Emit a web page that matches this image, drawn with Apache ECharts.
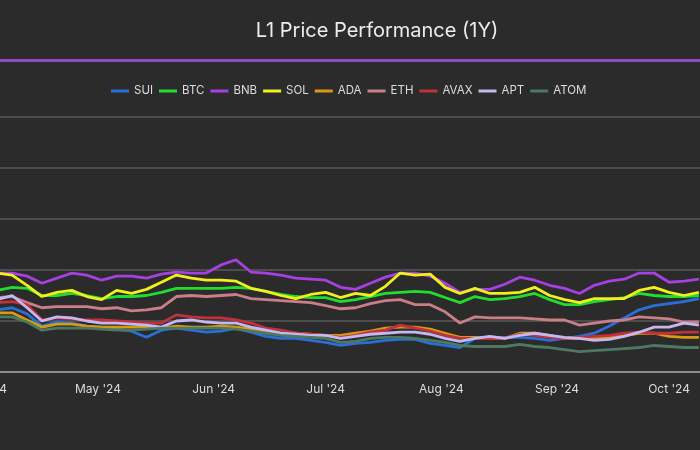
<!DOCTYPE html>
<html>
<head>
<meta charset="utf-8">
<script src="https://cdn.jsdelivr.net/npm/echarts@6/dist/echarts.min.js"></script>
<style>
html,body{margin:0;padding:0;background:#2b2b2b;overflow:hidden;width:700px;height:450px;}
#chart{width:740px;height:450px;position:absolute;left:-40px;top:0;}
</style>
</head>
<body>
<div id="chart"></div>
<script>
const dates = ["2024-04-04","2024-04-08","2024-04-12","2024-04-16","2024-04-20","2024-04-24","2024-04-28",
"2024-05-02","2024-05-06","2024-05-10","2024-05-14","2024-05-18","2024-05-22","2024-05-26","2024-05-30",
"2024-06-03","2024-06-07","2024-06-11","2024-06-15","2024-06-19","2024-06-23","2024-06-27",
"2024-07-01","2024-07-05","2024-07-09","2024-07-13","2024-07-17","2024-07-21","2024-07-25","2024-07-29",
"2024-08-02","2024-08-06","2024-08-10","2024-08-14","2024-08-18","2024-08-22","2024-08-26","2024-08-30",
"2024-09-03","2024-09-07","2024-09-11","2024-09-15","2024-09-19","2024-09-23","2024-09-27",
"2024-10-01","2024-10-05","2024-10-09"];

const seriesNames = ["SUI","BTC","BNB","SOL","ADA","ETH","AVAX","APT","ATOM"];
const xTickLabels = ["Apr '24","May '24","Jun '24","Jul '24","Aug '24","Sep '24","Oct '24"];

const SUI  = [61,63,57,45,49,48,45,44,42,40,34,41,43,41,39,40,43,39,35,33,33,31,29,26,28,29,31,32,32,28,26,24,33,34,34,34,33,31,33,35,38,45,53,61,65,67,69,72];
const BTC  = [80,83,82,75,75,77,75,72,74,74,75,78,82,82,82,82,83,82,79,76,74,73,73,69,71,74,77,78,79,78,73,68,74,71,72,74,77,71,66,66,69,71,73,77,75,74,74,75];
const BNB  = [97,97,94,87,92,97,95,90,94,94,92,96,98,97,97,105,110,98,97,95,92,91,90,83,81,87,93,97,97,94,87,78,81,81,86,93,90,85,82,77,85,89,91,97,97,88,89,91];
const SOL  = [97,95,85,74,78,80,74,71,80,77,81,88,95,92,90,90,89,82,79,75,72,76,78,73,77,75,84,97,95,96,83,77,82,77,77,78,83,75,71,68,72,72,72,80,83,78,75,78];
const ADA  = [58,58,51,44,47,47,45,44,44,44,44,43,45,44,44,45,44,42,39,38,38,37,36,36,38,40,43,44,44,42,38,34,34,33,33,38,38,36,33,33,33,34,36,38,38,35,34,34];
const ETH  = [73,74,68,63,64,64,64,62,63,60,61,63,74,75,74,75,76,72,71,70,69,68,65,62,63,67,70,71,66,66,59,48,54,53,53,53,52,51,51,46,48,50,51,54,53,52,49,49];
const AVAX = [68,69,66,51,53,52,51,51,50,49,48,48,56,54,53,53,51,48,43,41,38,37,36,34,36,39,41,46,43,40,36,33,33,33,33,37,36,34,33,34,35,36,38,39,38,38,39,39];
const APT  = [71,75,63,50,54,53,50,48,48,47,46,44,50,51,49,48,48,44,41,38,37,36,36,33,35,37,38,39,39,37,33,30,33,35,33,36,38,36,34,33,31,32,35,39,44,44,48,46];
const ATOM = [54,54,49,41,43,43,43,42,41,41,42,43,43,43,43,43,42,40,38,36,35,34,33,29,30,33,34,34,33,31,29,26,25,25,25,27,25,24,22,20,21,22,23,24,26,25,24,24];

const seriesValues = [SUI,BTC,BNB,SOL,ADA,ETH,AVAX,APT,ATOM];
const colors = ["#2a6fd8","#22dc2e","#a640e0","#f2f01c","#d89a12","#c97e88","#c0313c","#c4b8f2","#4d7862"];

const chart = echarts.init(document.getElementById('chart'), null, {renderer:'canvas'});
const FONT = 'Inter, Roboto, "Noto Sans", sans-serif';
const OFF = 40; // chart canvas is shifted 40px to the left of the viewport

const option = {
  backgroundColor: '#2b2b2b',
  animation: false,
  color: colors,
  title: {
    text: 'L1 Price Performance (1Y)',
    left: 372 + OFF,
    top: 16,
    textAlign: 'center',
    textStyle: {color:'#ececec', fontSize:20, fontWeight:'normal', fontFamily: FONT}
  },
  graphic: [{
    type:'rect', z: 10,
    shape:{x:0, y:59, width:740, height:3},
    style:{fill:'#8e4cc4'}
  }],
  legend: {
    data: seriesNames,
    left: 111 + OFF,
    top: 85,
    padding: 0,
    icon: 'rect',
    itemWidth: 18,
    itemHeight: 3,
    itemGap: 6,
    textStyle: {color:'#dddddd', fontSize:11.5, fontFamily: FONT}
  },
  grid: {left:0, right:0, top:117, bottom:78, containLabel:false},
  xAxis: {
    type: 'time',
    min: '2024-03-25T01:00:00',
    max: '2024-10-09T07:00:00',
    splitNumber: 7,
    axisLine: {show:true, lineStyle:{color:'#8c8c8c', width:2}},
    axisTick: {show:false},
    splitLine: {show:false},
    axisLabel: {
      color:'#dddddd', fontSize:12, fontFamily: FONT, margin:11,
      hideOverlap: false,
      formatter: function (val) {
        const d = new Date(val);
        const idx = d.getMonth() - 3;
        return (idx >= 0 && idx < xTickLabels.length && d.getDate() === 1) ? xTickLabels[idx] : '';
      }
    }
  },
  yAxis: {
    type: 'value',
    min: 0, max: 250, interval: 50,
    axisLabel: {show:false},
    axisLine: {show:false},
    axisTick: {show:false},
    splitLine: {show:true, lineStyle:{color:'#5a5a5a', width:1.5}}
  },
  series: seriesNames.map(function (name, i) {
    return {
      name: name,
      type: 'line',
      showSymbol: false,
      symbol: 'none',
      lineStyle: {width: 2.8, color: colors[i]},
      itemStyle: {color: colors[i]},
      data: dates.map(function (d, j) { return [d, seriesValues[i][j]]; })
    };
  })
};
chart.setOption(option);
</script>
</body>
</html>
